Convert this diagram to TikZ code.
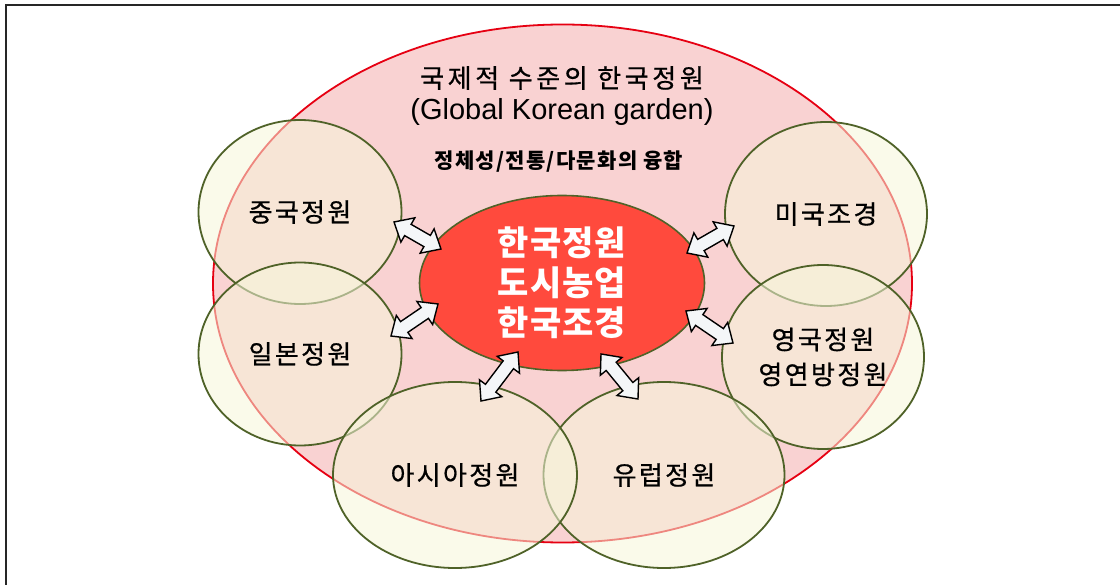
\documentclass[tikz,border=0pt]{standalone}
\usepackage{fontspec}
\setmainfont{Liberation Sans}
\newfontfamily\krTitle[LetterSpace=14,FakeBold=0.6]{Noto Sans CJK KR}
\newfontfamily\krSub[LetterSpace=6]{Noto Sans CJK KR}
\newfontfamily\krLab[LetterSpace=9,FakeBold=0.6]{Noto Sans CJK KR}
\newfontfamily\krHub[LetterSpace=3]{Noto Sans CJK KR}
\usetikzlibrary{shapes.geometric,calc}
\definecolor{outerpink}{HTML}{F9D2D2}
\definecolor{outerred}{HTML}{E60012}
\definecolor{olivec}{HTML}{4F6228}
\definecolor{creamc}{HTML}{F6F6DA}
\definecolor{coralc}{HTML}{FF4A3D}
\definecolor{arrowfill}{HTML}{F4F6F8}
\newcommand{\garrow}[2]{%
  \path[dblarrow] (#1)
    -- ($(#1)!16pt!(#2)!14pt!90:(#2)$)
    -- ($(#1)!16pt!(#2)!6.5pt!90:(#2)$)
    -- ($(#2)!16pt!(#1)!6.5pt!-90:(#1)$)
    -- ($(#2)!16pt!(#1)!14pt!-90:(#1)$)
    -- (#2)
    -- ($(#2)!16pt!(#1)!14pt!90:(#1)$)
    -- ($(#2)!16pt!(#1)!6.5pt!90:(#1)$)
    -- ($(#1)!16pt!(#2)!6.5pt!-90:(#2)$)
    -- ($(#1)!16pt!(#2)!14pt!-90:(#2)$)
    -- cycle;}
\tikzset{
  frameline/.style={draw=black!85, line width=1.6pt},
  outerell/.style={ellipse, draw=outerred, line width=1.8pt, fill=outerpink, inner sep=0pt},
  circ/.style={ellipse, draw=olivec, line width=1.8pt, fill=creamc, fill opacity=0.55,
    text opacity=1, inner sep=0pt, align=center, text=black,
    font=\fontsize{26}{35}\selectfont\krLab},
  hubell/.style={ellipse, draw=olivec, line width=1.6pt, fill=coralc, inner sep=0pt,
    align=center, text=white, font=\fontsize{34}{40}\selectfont\krHub\bfseries},
  dblarrow/.style={draw=black, line width=1.4pt, fill=arrowfill, line join=miter},
  titleA/.style={font=\fontsize{26}{30}\selectfont\krTitle, text=black},
  titleB/.style={font=\fontsize{29}{33}\selectfont, text=black},
  titleC/.style={font=\fontsize{21}{24}\selectfont\krSub\bfseries, text=black},
}
\begin{document}
\begin{tikzpicture}[x=1pt,y=-1pt]
\useasboundingbox (0,0) rectangle (1120,585);
\fill[white] (0,0) rectangle (1120,585);
\draw[frameline] (1120,5) -- (6,5) -- (6,585);

\node[outerell, minimum width=699pt, minimum height=518pt] (outer) at (562.5,283.5) {};
\node[titleA] (t1) at (562,78) {국제적 수준의 한국정원};
\node[titleB] (t2) at (562,112) {(Global Korean garden)};
\node[titleC] (t3) at (559,161) {정체성/전통/다문화의 융합};

\node[circ, minimum width=203pt, minimum height=184pt] (china) at (300,212) {중국정원};
\node[circ, minimum width=203pt, minimum height=183pt] (japan) at (300,354) {일본정원};
\node[circ, minimum width=202pt, minimum height=184pt] (usa) at (826,214) {미국조경};
\node[circ, minimum width=202pt, minimum height=184pt] (uk) at (823,357) {영국정원\\영연방정원};
\node[circ, minimum width=241pt, minimum height=186pt] (europe) at (664,475) {유럽정원};
\node[circ, minimum width=244pt, minimum height=186pt] (asia) at (455,475) {아시아정원};

\node[hubell, minimum width=285pt, minimum height=175pt] (hub) at (562,283) {한국정원\\도시농업\\한국조경};

\coordinate (chinaA) at (394,222);  \coordinate (chinaB) at (441,249);
\coordinate (japanA) at (391,336);  \coordinate (japanB) at (438,304);
\coordinate (usaA) at (734,226);    \coordinate (usaB) at (687,253);
\coordinate (ukA) at (733,343);     \coordinate (ukB) at (686,311);
\coordinate (asiaA) at (481,401);   \coordinate (asiaB) at (518,352);
\coordinate (europeA) at (638,399); \coordinate (europeB) at (601,354);

\garrow{chinaA}{chinaB}
\garrow{japanA}{japanB}
\garrow{usaA}{usaB}
\garrow{ukA}{ukB}
\garrow{asiaA}{asiaB}
\garrow{europeA}{europeB}
\end{tikzpicture}
\end{document}
